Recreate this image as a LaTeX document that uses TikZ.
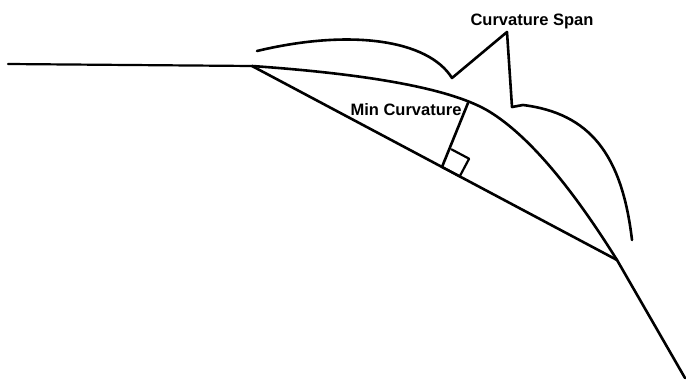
\documentclass[tikz,border=0pt]{standalone}
\usepackage{fontspec}
\setmainfont{Liberation Sans}
\begin{document}
\begin{tikzpicture}[x=1pt,y=-1pt,
  ln/.style={line width=2.6pt,line join=round,line cap=round},
  lbl/.style={font=\fontsize{16.5}{20}\selectfont\bfseries,inner sep=0pt,anchor=base}]
\useasboundingbox (0,0) rectangle (686,388);
\coordinate (L) at (8,64);
\coordinate (A) at (252,66);
\coordinate (M) at (490,112);
\coordinate (B) at (617,260);
\coordinate (E) at (685,378);
\coordinate (F) at (442,167);
\coordinate (T) at (468,103);
% incoming and outgoing lines
\draw[ln,line width=2.2pt] (L) -- (A);
\draw[ln] (B) -- (E);
% chord
\draw[ln] (A) -- (B);
% arc
\draw[ln] (A) .. controls (375.7,74.6) and (454.4,89.9) .. (M)
              .. controls (527.7,135.4) and (569.6,184.2) .. (B);
% perpendicular and right-angle mark
\draw[ln] (T) -- (F);
\draw[ln,line width=2.2pt] (F) -- ++(17.7,9.4) -- ++(9.4,-17.7) -- ++(-17.7,-9.4);
% brace
\draw[ln] (257,51) .. controls (350,28.7) and (428,39.5) .. (452,78)
  -- (507,32) -- (512,107) -- (523,105)
  .. controls (589.3,113.3) and (621.9,153.8) .. (632,240);
% labels
\node[lbl] (mc) at (406,115) {Min Curvature};
\node[lbl] (cs) at (532,25) {Curvature Span};
\end{tikzpicture}
\end{document}
